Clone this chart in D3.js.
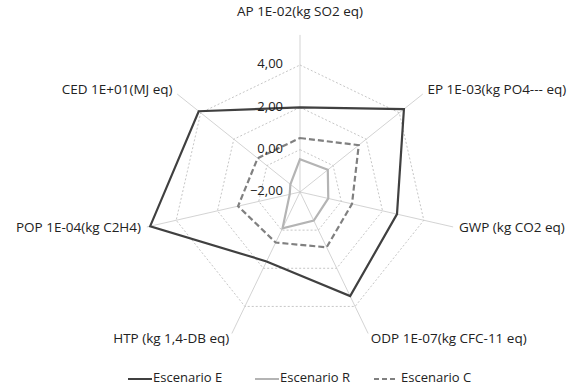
<!DOCTYPE html>
<html>
<head>
<meta charset="utf-8">
<script src="https://cdn.jsdelivr.net/npm/d3@7"></script>
<style>
  body { margin: 0; background: #fff; }
  text { font-family: "Open Sans", sans-serif; fill: #222; }
</style>
</head>
<body>
<div id="graph"></div>
<script>
(function() {

  // categories and values
  const axesNames = ["AP 1E-02(kg SO2 eq)", "EP 1E-03(kg PO4--- eq)", "GWP (kg CO2 eq)",
    "ODP 1E-07(kg CFC-11 eq)", "HTP (kg 1,4-DB eq)", "POP 1E-04(kg C2H4)", "CED 1E+01(MJ eq)"]
  const escenarioE = [2.0, 4.28, 2.7, 3.46, 1.64, 5.26, 4.12]
  const escenarioR = [-0.45, -0.32, -0.63, -0.5, -0.1, -1.5, -1.42]
  const escenarioC = [0.55, 1.55, 0.52, 0.9, 0.65, 1.0, 0.56]
  const tickValues = [-2, 0, 2, 4]
  const seriesNames = ["Escenario E", "Escenario R", "Escenario C"]

  const width = 574
  const height = 389
  const cx = 300, cy = 192

  const svg = d3.select("#graph")
    .append("svg")
      .attr("width", width)
      .attr("height", height)

  const r = d3.scaleLinear()
    .domain([-2, 4])
    .range([0, 127])

  const angle = d3.scaleLinear()
    .domain([0, axesNames.length])
    .range([0, 2 * Math.PI])

  function pt(i, v) {
    const a = angle(i)
    return [cx + Math.sin(a) * r(v), cy - Math.cos(a) * r(v)]
  }

  const spokeEnd = 5.42
  const fmt = d => d3.format(".2f")(d).replace(".", ",")

  // rings
  tickValues.filter(t => t > -2).forEach(t => {
    svg.append("polygon")
      .attr("points", axesNames.map((d, i) => pt(i, t).join(",")).join(" "))
      .attr("fill", "none")
      .attr("stroke", "#b8b8b8")
      .attr("stroke-width", 0.8)
      .attr("stroke-dasharray", "2,2")
  })

  // spokes
  svg.append("g").selectAll("line")
    .data(axesNames)
    .join("line")
      .attr("x1", cx).attr("y1", cy)
      .attr("x2", (d, i) => pt(i, spokeEnd)[0])
      .attr("y2", (d, i) => pt(i, spokeEnd)[1])
      .attr("stroke", "#c8c8c8")
      .attr("stroke-width", 0.8)

  // category labels
  svg.append("g").selectAll("text")
    .data(axesNames)
    .join("text")
      .attr("x", (d, i) => pt(i, spokeEnd + 6 / (r(1) - r(0)))[0])
      .attr("y", (d, i) => {
        const y = pt(i, spokeEnd + 6 / (r(1) - r(0)))[1]
        return Math.cos(angle(i)) > 0.9 ? y - 17 : y
      })
      .attr("dominant-baseline", "middle")
      .attr("text-anchor", (d, i) => {
        const s = Math.sin(angle(i))
        return s > 0.1 ? "start" : (s < -0.1 ? "end" : "middle")
      })
      .style("font-size", "13.5px")
      .text(d => d)

  // series
  const line = d3.lineRadial()
    .angle((d, i) => angle(i))
    .radius(d => r(d))
    .curve(d3.curveLinearClosed)

  const series = [
    { name: seriesNames[0], values: escenarioE, color: "#404040", dash: null },
    { name: seriesNames[1], values: escenarioR, color: "#b4b4b4", dash: null },
    { name: seriesNames[2], values: escenarioC, color: "#808080", dash: "6,3" }
  ]

  const plot = svg.append("g").attr("transform", "translate(" + cx + "," + cy + ")")
  series.forEach(s => {
    plot.append("path")
      .datum(s.values)
      .attr("fill", "none")
      .attr("stroke", s.color)
      .attr("stroke-width", 2.2)
      .attr("stroke-dasharray", s.dash)
      .attr("d", line)
  })

  // tick labels
  svg.append("g").selectAll("text")
    .data(tickValues)
    .join("text")
      .attr("x", cx - 17)
      .attr("y", d => cy - r(d))
      .attr("text-anchor", "end")
      .attr("dominant-baseline", "middle")
      .style("font-size", "13px")
      .text(fmt)

  // legend
  const legendX = [128, 255, 374]
  const legend = svg.append("g").selectAll("g")
    .data(series)
    .join("g")
      .attr("transform", (d, i) => "translate(" + legendX[i] + ",379)")
  legend.append("line")
    .attr("x1", 0).attr("x2", 24)
    .attr("stroke", d => d.color)
    .attr("stroke-width", 2)
    .attr("stroke-dasharray", d => d.dash ? "5,3" : null)
  legend.append("text")
    .attr("x", (d, i) => i == 2 ? 27 : 25)
    .attr("dominant-baseline", "middle")
    .style("font-size", "13px")
    .text(d => d.name)

})();
</script>
</body>
</html>
